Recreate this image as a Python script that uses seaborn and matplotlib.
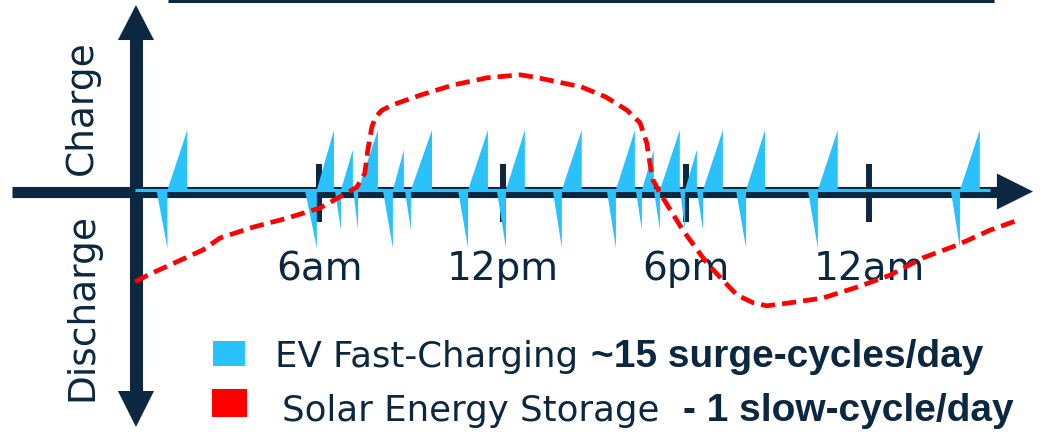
import numpy as np
import pandas as pd
import matplotlib
import matplotlib.pyplot as plt
import seaborn as sns

matplotlib.use("Agg")
sns.set_theme(style="white")
plt.rcParams["font.family"] = ["DejaVu Sans"]

NAVY = "#0c2740"
BLUE = "#29c2fd"
RED = "#ff0000"

# EV fast-charging surge cycles (time in hours from midnight, power in relative units)
ev_start = [1.03, 5.92, 6.71, 7.27, 8.41, 9.00, 10.87, 12.11, 13.94, 15.71,
            16.56, 17.15, 17.97, 18.56, 19.97, 22.32, 26.97]
ev_charge_dur = [0.65, 0.56, 0.39, 0.65, 0.36, 0.69, 0.65, 0.62, 0.65, 0.62,
                 0.39, 0.65, 0.39, 0.65, 0.62, 0.65, 0.65]
ev_charge = [1.0, 1.0, 0.67, 1.0, 0.67, 1.0, 1.0, 1.0, 1.0, 1.0,
             0.67, 1.0, 0.67, 1.0, 1.0, 1.0, 1.0]
ev_discharge_dur = [0.36, 0.39, 0.2, 0.16, 0.33, 0.2, 0.33, 0.3, 0.3, 0.3,
                    0.2, 0.2, 0.16, 0.2, 0.33, 0.33, 0.3]
ev_discharge = [-0.97, -0.97, -0.67, -0.67, -0.97, -0.67, -0.97, -0.97, -0.97, -0.97,
                -0.67, -0.67, -0.67, -0.67, -0.97, -0.97, -0.97]

# Solar storage slow cycle
solar_hour = [-0.03, 0.46, 2.19, 2.75, 3.83, 4.94, 6.02, 6.90, 7.23, 7.49, 7.59, 7.72,
              7.85, 8.05, 8.41, 9.30, 10.38, 11.49, 12.57, 13.06, 14.57, 15.38, 16.07,
              16.50, 16.72, 16.82, 16.92, 17.15, 17.90, 18.69, 19.11, 19.67, 20.20, 20.65,
              21.41, 22.48, 23.60, 24.68, 25.76, 26.87, 27.95, 28.77]
solar_level = [-1.53, -1.40, -1.00, -0.80, -0.62, -0.47, -0.30, -0.05, 0.05, 0.28, 0.67, 1.05,
               1.22, 1.33, 1.42, 1.58, 1.75, 1.87, 1.92, 1.88, 1.72, 1.55, 1.33,
               1.12, 0.78, 0.45, 0.17, -0.05, -0.67, -1.22, -1.45, -1.75, -1.88, -1.93,
               -1.88, -1.80, -1.62, -1.42, -1.13, -0.92, -0.67, -0.52]

tick_hours = [6, 12, 18, 24]
tick_labels = ["6am", "12pm", "6pm", "12am"]

fig = plt.figure(figsize=(10.51, 4.33), dpi=100)
ax = fig.add_axes([0, 0, 1, 1])
ax.set_xlim(-4.45, 29.95)
ax.set_ylim(-4.05, 3.167)
ax.axis("off")

# top rule
ax.plot([1.05, 28.1], [3.153, 3.153], color=NAVY, lw=2.2, solid_capstyle="butt")

# axes with arrow heads
ax.plot([0, 0], [-3.4, 2.55], color=NAVY, lw=9.4, solid_capstyle="butt", zorder=2)
ax.fill([-0.59, 0.59, 0], [2.5, 2.5, 3.083], color=NAVY, lw=0, zorder=2)
ax.fill([-0.59, 0.59, 0], [-3.35, -3.35, -3.95], color=NAVY, lw=0, zorder=2)
ax.plot([-4.06, 28.25], [-0.025, -0.025], color=NAVY, lw=8, solid_capstyle="butt", zorder=2)
ax.fill([28.18, 28.18, 29.36], [0.275, -0.325, -0.025], color=NAVY, lw=0, zorder=2)
for h in tick_hours:
    ax.plot([h, h], [0.433, -0.533], color=NAVY, lw=4.3, solid_capstyle="butt", zorder=2)

ax.plot([-0.03, 27.95], [0, 0], color=BLUE, lw=2.2, solid_capstyle="butt", zorder=3)

# sawtooth surges
for s, cd, c, dd, d in zip(ev_start, ev_charge_dur, ev_charge, ev_discharge_dur, ev_discharge):
    xs = [s - dd, s, s, s + cd, s + cd]
    ys = [0, d, 0, c, 0]
    ax.fill(xs, ys, color=BLUE, lw=0, zorder=4)

for h, lab in zip(tick_hours, tick_labels):
    ax.text(h, -1.5, lab, ha="center", va="baseline", fontsize=28, color=NAVY, zorder=5)

solar = pd.DataFrame({"hour": solar_hour, "level": solar_level})
sns.lineplot(data=solar, x="hour", y="level", ax=ax, color=RED, lw=3.4, sort=False,
             estimator=None, linestyle=(0, (3.0, 1.5)), dash_capstyle="butt", zorder=6)

ax.text(-1.77, 1.367, "Charge", rotation=90, ha="center", va="center", fontsize=27, color=NAVY)
ax.text(-1.77, -1.95, "Discharge", rotation=90, ha="center", va="center", fontsize=27, color=NAVY)

# legend
ax.add_patch(plt.Rectangle((2.52, -2.93), 1.05, 0.417, color=BLUE, lw=0))
ax.add_patch(plt.Rectangle((2.49, -3.783), 1.146, 0.467, color=RED, lw=0))

rows = [
    (4.55, -2.95, "EV Fast-Charging", "~15 surge-cycles/day", 9),
    (4.78, -3.85, "Solar Energy Storage", "- 1 slow-cycle/day", 17),
]
for x, y, plain, bold, gap in rows:
    t = ax.text(x, y, plain, ha="left", va="baseline", fontsize=25.6, color=NAVY)
    ax.annotate(bold, xy=(1, y), xycoords=(t, "data"), xytext=(gap, 0),
                textcoords="offset points", ha="left", va="baseline",
                fontsize=28, fontweight="bold", color=NAVY,
                family=["Liberation Sans", "DejaVu Sans"])

fig.savefig("out.png", dpi=100)
